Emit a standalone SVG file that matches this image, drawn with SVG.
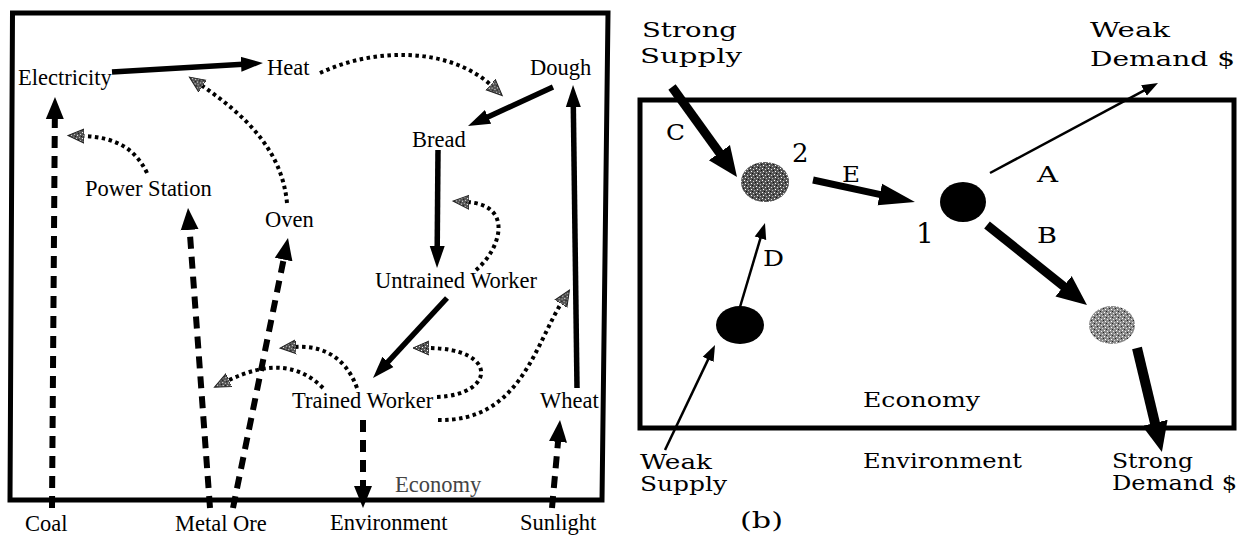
<svg xmlns="http://www.w3.org/2000/svg" width="1238" height="537" viewBox="0 0 1238 537">
<style>
.l{font-family:"Liberation Serif","Times New Roman",serif;font-size:22.5px;fill:#000}
.r{font-family:"DejaVu Serif","Liberation Serif",serif;font-size:20px;fill:#000}
.lbl{font-family:"DejaVu Serif","Liberation Serif",serif;font-size:22px;fill:#000}
.frame{fill:none;stroke:#000;stroke-width:5;stroke-linejoin:miter}
.solid{fill:none;stroke:#000;stroke-width:5.5}
.dash{fill:none;stroke:#000;stroke-width:6;stroke-dasharray:12 8}
.dot{fill:none;stroke:#000;stroke-width:4;stroke-dasharray:3.5 3.5}
.thin{fill:none;stroke:#000;stroke-width:2.5}
</style>
<defs>
<pattern id="stipD" width="6" height="6" patternUnits="userSpaceOnUse">
<rect width="6" height="6" fill="#555"/>
<rect x="0" y="0" width="1" height="1" fill="#fff"/>
<rect x="3" y="1" width="1" height="1" fill="#ddd"/>
<rect x="1" y="3" width="1" height="1" fill="#fff"/>
<rect x="4" y="4" width="1" height="1" fill="#bbb"/>
<rect x="5" y="2" width="1" height="1" fill="#111"/>
<rect x="2" y="5" width="1" height="1" fill="#111"/>
</pattern>
<pattern id="stipL" width="6" height="6" patternUnits="userSpaceOnUse">
<rect width="6" height="6" fill="#8a8a8a"/>
<rect x="0" y="0" width="1" height="1" fill="#fff"/>
<rect x="3" y="1" width="1" height="1" fill="#eee"/>
<rect x="1" y="3" width="1" height="1" fill="#fff"/>
<rect x="4" y="4" width="1" height="1" fill="#ddd"/>
<rect x="5" y="2" width="1" height="1" fill="#222"/>
<rect x="2" y="5" width="1" height="1" fill="#222"/>
</pattern>
<marker id="mSolid" markerUnits="userSpaceOnUse" orient="auto" viewBox="0 -10 24 20" markerWidth="24" markerHeight="20" refX="2" refY="0"><path d="M0,-7.5 L22,0 L0,7.5 z" fill="#000"/></marker>
<marker id="mDash" markerUnits="userSpaceOnUse" orient="auto" viewBox="0 -10 24 20" markerWidth="24" markerHeight="20" refX="2" refY="0"><path d="M0,-9 L22,0 L0,9 z" fill="#000"/></marker>
<marker id="mDot" markerUnits="userSpaceOnUse" orient="auto" viewBox="0 -9 18 18" markerWidth="18" markerHeight="18" refX="2" refY="0"><path d="M0,-7 L16,0 L0,7 z" fill="url(#stipD)" stroke="#222" stroke-width="1"/></marker>
<marker id="mBig" markerUnits="userSpaceOnUse" orient="auto" viewBox="0 -15 32 30" markerWidth="32" markerHeight="30" refX="2" refY="0"><path d="M0,-13 L30,0 L0,13 z" fill="#000"/></marker>
<marker id="mE" markerUnits="userSpaceOnUse" orient="auto" viewBox="0 -13 38 26" markerWidth="38" markerHeight="26" refX="2" refY="0"><path d="M0,-11 L36,0 L0,11 z" fill="#000"/></marker>
<marker id="mThin" markerUnits="userSpaceOnUse" orient="auto" viewBox="0 -8 18 16" markerWidth="18" markerHeight="16" refX="2" refY="0"><path d="M0,-6 L16,0 L0,6 z" fill="#000"/></marker>
</defs>
<rect width="1238" height="537" fill="#fff"/>

<!-- panel frames -->
<path class="frame" d="M12.5,13 L608,13 L602,500 L10,500 Z"/>
<rect class="frame" x="640" y="100" width="594" height="328"/>

<!-- left panel nodes -->
<g id="electricity"><text class="l" x="18" y="85">Electricity</text></g>
<g id="heat"><text class="l" x="267" y="75">Heat</text></g>
<g id="dough"><text class="l" x="530" y="75">Dough</text></g>
<g id="bread"><text class="l" x="412" y="147">Bread</text></g>
<g id="power-station"><text class="l" x="85" y="196">Power Station</text></g>
<g id="oven"><text class="l" x="265" y="227">Oven</text></g>
<g id="untrained-worker"><text class="l" x="375" y="288">Untrained Worker</text></g>
<g id="trained-worker"><text class="l" x="292" y="408">Trained Worker</text></g>
<g id="wheat"><text class="l" x="540" y="408">Wheat</text></g>
<g id="economy-a"><text class="l" x="395" y="492" style="fill:#444">Economy</text></g>
<g id="coal"><text class="l" x="25" y="531">Coal</text></g>
<g id="metal-ore"><text class="l" x="175" y="531">Metal Ore</text></g>
<g id="environment-a"><text class="l" x="330" y="530">Environment</text></g>
<g id="sunlight"><text class="l" x="520" y="530">Sunlight</text></g>

<!-- right panel nodes -->
<g id="strong-supply"><text class="r" x="642" y="37" textLength="95" lengthAdjust="spacingAndGlyphs">Strong</text><text class="r" x="640" y="63" textLength="102" lengthAdjust="spacingAndGlyphs">Supply</text></g>
<g id="weak-demand"><text class="r" x="1090" y="37" textLength="80" lengthAdjust="spacingAndGlyphs">Weak</text><text class="r" x="1090" y="66" textLength="145" lengthAdjust="spacingAndGlyphs">Demand $</text></g>
<g id="node-2"><ellipse cx="765" cy="182" rx="24" ry="20" fill="url(#stipD)"/><text class="r" x="792" y="162" style="font-size:26px">2</text></g>
<g id="node-1"><ellipse cx="963" cy="202" rx="23" ry="20" fill="#000"/><text class="r" x="916" y="243" style="font-size:28px">1</text></g>
<g id="node-weak-supply"><ellipse cx="740" cy="325" rx="24" ry="19" fill="#000"/></g>
<g id="node-strong-demand"><ellipse cx="1112" cy="325" rx="23" ry="19" fill="url(#stipL)"/></g>
<g id="economy-b"><text class="r" x="863" y="407" textLength="117" lengthAdjust="spacingAndGlyphs">Economy</text></g>
<g id="weak-supply"><text class="r" x="640" y="468.5" textLength="72" lengthAdjust="spacingAndGlyphs">Weak</text><text class="r" x="640" y="490.5" textLength="87" lengthAdjust="spacingAndGlyphs">Supply</text></g>
<g id="environment-b"><text class="r" x="863" y="468" textLength="159" lengthAdjust="spacingAndGlyphs">Environment</text></g>
<g id="strong-demand"><text class="r" x="1112" y="468" textLength="81" lengthAdjust="spacingAndGlyphs">Strong</text><text class="r" x="1112" y="490" textLength="125" lengthAdjust="spacingAndGlyphs">Demand $</text></g>
<g id="caption-b"><text class="r" x="740" y="528" style="font-size:22px" textLength="43" lengthAdjust="spacingAndGlyphs">(b)</text></g>

<!-- connectors -->
<g id="connectors">
<!-- left solid -->
<line class="solid" x1="112" y1="72" x2="243" y2="64.2" marker-end="url(#mSolid)"/>
<line class="solid" x1="553" y1="87" x2="486.2" y2="117.7" marker-end="url(#mSolid)"/>
<line class="solid" x1="438" y1="150" x2="437.2" y2="248" marker-end="url(#mSolid)"/>
<line class="solid" x1="447" y1="298" x2="386.6" y2="363.3" marker-end="url(#mSolid)"/>
<line class="solid" x1="577" y1="388" x2="573.3" y2="105" marker-end="url(#mSolid)"/>
<!-- left dashed -->
<line class="dash" x1="52" y1="508" x2="54.85" y2="117" marker-end="url(#mDash)"/>
<line class="dash" x1="210" y1="508" x2="189.5" y2="227.9" marker-end="url(#mDash)"/>
<line class="dash" x1="233" y1="508" x2="284" y2="257.6" marker-end="url(#mDash)"/>
<line class="dash" x1="363" y1="420" x2="363" y2="488" marker-end="url(#mDash)"/>
<line class="dash" x1="552" y1="508" x2="558.2" y2="439.9" marker-end="url(#mDash)"/>
<!-- left dotted -->
<path class="dot" d="M320,73 C375,47 450,47 492,86" marker-end="url(#mDot)"/>
<path class="dot" d="M287,203 C282,150 245,115 201,85" marker-end="url(#mDot)"/>
<path class="dot" d="M147,173 C135,148 115,137 82,136" marker-end="url(#mDot)"/>
<path class="dot" d="M476,270 C500,250 515,205 467,202" marker-end="url(#mDot)"/>
<path class="dot" d="M437,397 C495,395 500,348 427,348" marker-end="url(#mDot)"/>
<path class="dot" d="M438,420 C520,422 535,345 562,302" marker-end="url(#mDot)"/>
<path class="dot" d="M323,388 C300,365 270,360 227,381" marker-end="url(#mDot)"/>
<path class="dot" d="M357,388 C345,355 320,345 294,347" marker-end="url(#mDot)"/>
<!-- right -->
<line x1="672" y1="87" x2="720.6" y2="154.3" stroke="#000" stroke-width="9" marker-end="url(#mBig)"/>
<line x1="813" y1="180" x2="881.7" y2="194.8" stroke="#000" stroke-width="7" marker-end="url(#mE)"/>
<line class="thin" x1="990" y1="173" x2="1145.7" y2="89.6" marker-end="url(#mThin)"/>
<line x1="987" y1="225" x2="1065.1" y2="287.5" stroke="#000" stroke-width="9" marker-end="url(#mBig)"/>
<line class="thin" x1="740" y1="307" x2="761" y2="236.4" marker-end="url(#mThin)"/>
<line class="thin" x1="665" y1="450" x2="709" y2="357.6" marker-end="url(#mThin)"/>
<line x1="1137" y1="348" x2="1155.4" y2="424.8" stroke="#000" stroke-width="10" marker-end="url(#mBig)"/>
</g>

<!-- connector labels -->
<g id="connector-labels">
<text class="lbl" x="666" y="140" textLength="19" lengthAdjust="spacingAndGlyphs">C</text>
<text class="lbl" x="842" y="182" textLength="18" lengthAdjust="spacingAndGlyphs">E</text>
<text class="lbl" x="763" y="266" textLength="21" lengthAdjust="spacingAndGlyphs">D</text>
<text class="lbl" x="1037" y="182" textLength="21" lengthAdjust="spacingAndGlyphs">A</text>
<text class="lbl" x="1037" y="243" textLength="20" lengthAdjust="spacingAndGlyphs">B</text>
</g>
</svg>
